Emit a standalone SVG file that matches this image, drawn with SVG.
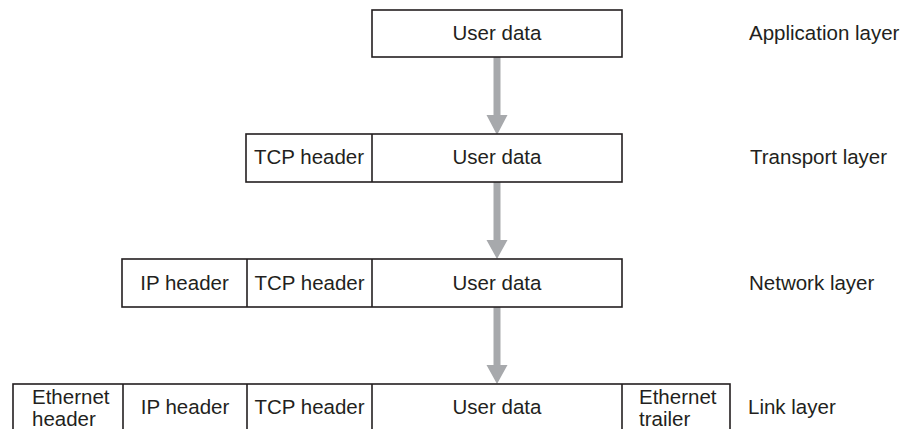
<svg xmlns="http://www.w3.org/2000/svg" width="905" height="429" viewBox="0 0 905 429">
<style>
.box{fill:#fff;stroke:#231f20;stroke-width:1.6}
.div{stroke:#231f20;stroke-width:1.6}
text{font-family:"Liberation Sans",Arial,Helvetica,sans-serif;font-size:20.5px;fill:#231f20}
.c{text-anchor:middle}
.arr{fill:#a7a9ac}
</style>
<rect width="905" height="429" fill="#fff"/>
<g id="connectors">
<path class="arr" d="M493.5,57 H500.5 V115 H507.5 L497,135 L486.5,115 H493.5 Z"/>
<path class="arr" d="M493.5,182 H500.5 V240 H507.5 L497,259 L486.5,240 H493.5 Z"/>
<path class="arr" d="M493.5,307 H500.5 V365 H507.5 L497,384 L486.5,365 H493.5 Z"/>
</g>
<g id="app">
<rect class="box" x="372" y="10" width="250" height="47"/>
<text class="c" x="497" y="40">User data</text>
<text x="749" y="40">Application layer</text>
</g>
<g id="transport">
<rect class="box" x="246" y="134" width="376" height="48"/>
<line class="div" x1="372" y1="134" x2="372" y2="182"/>
<text class="c" x="309" y="164">TCP header</text>
<text class="c" x="497" y="164">User data</text>
<text x="750" y="164">Transport layer</text>
</g>
<g id="network">
<rect class="box" x="122" y="259" width="500" height="48"/>
<line class="div" x1="247" y1="259" x2="247" y2="307"/>
<line class="div" x1="372" y1="259" x2="372" y2="307"/>
<text class="c" x="184.5" y="290">IP header</text>
<text class="c" x="309.5" y="290">TCP header</text>
<text class="c" x="497" y="290">User data</text>
<text x="749" y="290">Network layer</text>
</g>
<g id="link">
<rect class="box" x="13" y="384" width="717" height="60"/>
<line class="div" x1="123" y1="384" x2="123" y2="444"/>
<line class="div" x1="247" y1="384" x2="247" y2="444"/>
<line class="div" x1="372" y1="384" x2="372" y2="444"/>
<line class="div" x1="622" y1="384" x2="622" y2="444"/>
<text x="32" y="404">Ethernet</text>
<text x="32" y="426">header</text>
<text class="c" x="185" y="414">IP header</text>
<text class="c" x="309.5" y="414">TCP header</text>
<text class="c" x="497" y="414">User data</text>
<text x="639" y="404">Ethernet</text>
<text x="639" y="426">trailer</text>
<text x="748" y="414">Link layer</text>
</g>
</svg>
